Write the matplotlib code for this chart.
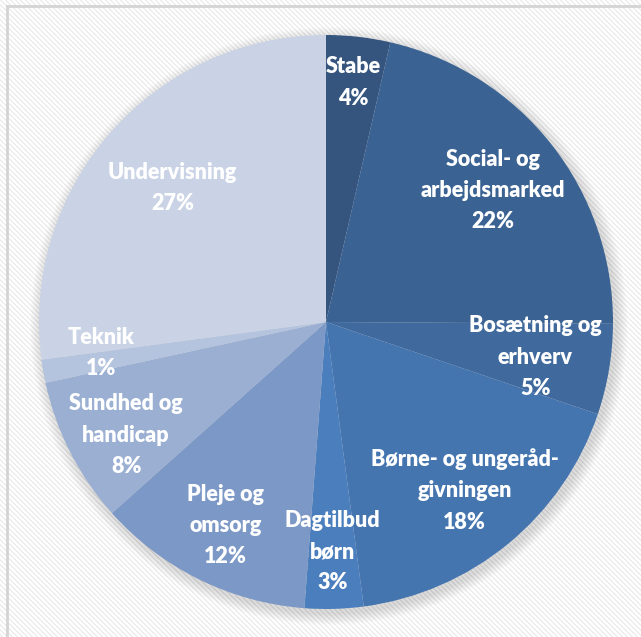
import matplotlib
matplotlib.use("Agg")
import matplotlib.pyplot as plt
import numpy as np
from matplotlib.patches import Circle

# budget shares (clockwise from 12 o'clock)
categories = ["Stabe", "Social- og\narbejdsmarked", "Bosætning og\nerhverv",
              "Børne- og ungeråd-\ngivningen", "Dagtilbud\nbørn", "Pleje og\nomsorg",
              "Sundhed og\nhandicap", "Teknik", "Undervisning"]
shares = [3.6, 21.5, 5.1, 17.7, 3.3, 12.2, 8.2, 1.3, 27.1]
colors = ["#35557F", "#3A6292", "#406A9E", "#4575AF", "#4A7EBC",
          "#7C98C6", "#9AAFD2", "#B4C3DE", "#CAD3E5"]
# label placement: fraction of radius, angle nudge in degrees
label_r = [0.84, 0.74, 0.74, 0.76, 0.80, 0.79, 0.80, 0.79, 0.71]
label_da = [0, 0, 0, 0, 0, 0, 2.5, -2, 0]

W, H = 641, 637
fig = plt.figure(figsize=(W / 100, H / 100), dpi=100)
ax = fig.add_axes([0, 0, 1, 1])

# striped background + frame lines
yy, xx = np.mgrid[0:H, 0:W]
stripes = ((xx - yy) % 5 < 2).astype(float)
bg = np.ones((H, W, 3))
bg[stripes == 1] = [0.93, 0.93, 0.93]
ax.imshow(bg, extent=(0, W, 0, H), origin="upper", zorder=0, interpolation="nearest")
ax.plot([7, W], [H - 6, H - 6], color="#D4D4D4", lw=2, zorder=1)
ax.plot([7, 7], [0, H - 6], color="#D4D4D4", lw=2, zorder=1)

cx, cy, R = 326, H - 322, 287

# soft shadow
for k in range(12):
    ax.add_patch(Circle((cx + 3, cy - 4), R + 12 - k, color="#000000", alpha=0.012, lw=0, zorder=2))

wedges, _ = ax.pie(shares, colors=colors, startangle=90, counterclock=False,
                   center=(cx, cy), radius=R, frame=True,
                   wedgeprops=dict(linewidth=0))
for w in wedges:
    w.set_zorder(3)
ax.set_xlim(0, W)
ax.set_ylim(0, H)
ax.set_aspect("equal")
ax.axis("off")

total = sum(shares)
for w, name, v, rf, da in zip(wedges, categories, shares, label_r, label_da):
    mid = np.deg2rad((w.theta1 + w.theta2) / 2 + da)
    x = cx + rf * R * np.cos(mid)
    y = cy + rf * R * np.sin(mid)
    pct = int(100 * v / total + 0.5 + 1e-6)
    ax.text(x, y, f"{name}\n{pct}%", ha="center", va="center", color="white",
            fontsize=15.5, fontweight="heavy", family="Lato", linespacing=1.6, zorder=5)

plt.savefig("out.png", dpi=100)
